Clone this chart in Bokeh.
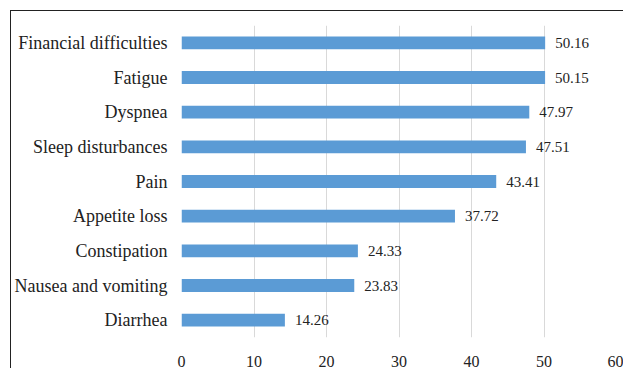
from bokeh.plotting import figure
from bokeh.models import ColumnDataSource, LabelSet, FixedTicker
from bokeh.embed import file_html
from bokeh.resources import INLINE

categories = ["Financial difficulties", "Fatigue", "Dyspnea", "Sleep disturbances",
              "Pain", "Appetite loss", "Constipation", "Nausea and vomiting", "Diarrhea"]
values = [50.16, 50.15, 47.97, 47.51, 43.41, 37.72, 24.33, 23.83, 14.26]
x_ticks = [0, 10, 20, 30, 40, 50, 60]

FONT = "Liberation Serif"
labels = [f"{v:.2f}" for v in values]
src = ColumnDataSource(dict(cat=categories, val=values, lab=labels))

p = figure(width=613, height=358, y_range=list(reversed(categories)), x_range=(0, 60),
           output_backend="svg", toolbar_location=None,
           min_border_left=169, min_border_right=8, min_border_top=14, min_border_bottom=29,
           margin=(10, 0, 0, 10),
           styles={"border-top": "1.5px solid #222222", "border-left": "1.5px solid #222222"})
p.outline_line_color = None
p.background_fill_color = "white"
p.border_fill_color = "white"

p.hbar(y="cat", right="val", left=0, height=0.37, source=src,
       fill_color="#5B9BD5", line_color=None)

p.add_layout(LabelSet(x="val", y="cat", text="lab", source=src, x_offset=10,
                      text_baseline="middle", text_font=FONT,
                      text_font_size="15px", text_color="#222222"))

p.xgrid.ticker = FixedTicker(ticks=x_ticks)
p.xgrid.grid_line_color = "#D9D9D9"
p.xgrid.grid_line_width = 1
p.ygrid.grid_line_color = None

p.xaxis.ticker = FixedTicker(ticks=x_ticks)
p.xaxis.axis_line_color = None
p.xaxis.major_tick_line_color = None
p.xaxis.minor_tick_line_color = None
p.xaxis.major_label_standoff = 12
p.xaxis.major_label_text_font = FONT
p.xaxis.major_label_text_font_size = "16px"
p.xaxis.major_label_text_color = "#222222"

p.yaxis.axis_line_color = None
p.yaxis.major_tick_line_color = None
p.yaxis.minor_tick_line_color = None
p.yaxis.major_label_standoff = 8
p.yaxis.major_label_text_font = FONT
p.yaxis.major_label_text_font_size = "18px"
p.yaxis.major_label_text_color = "#222222"

open("out.html", "w").write(file_html(p, INLINE))
